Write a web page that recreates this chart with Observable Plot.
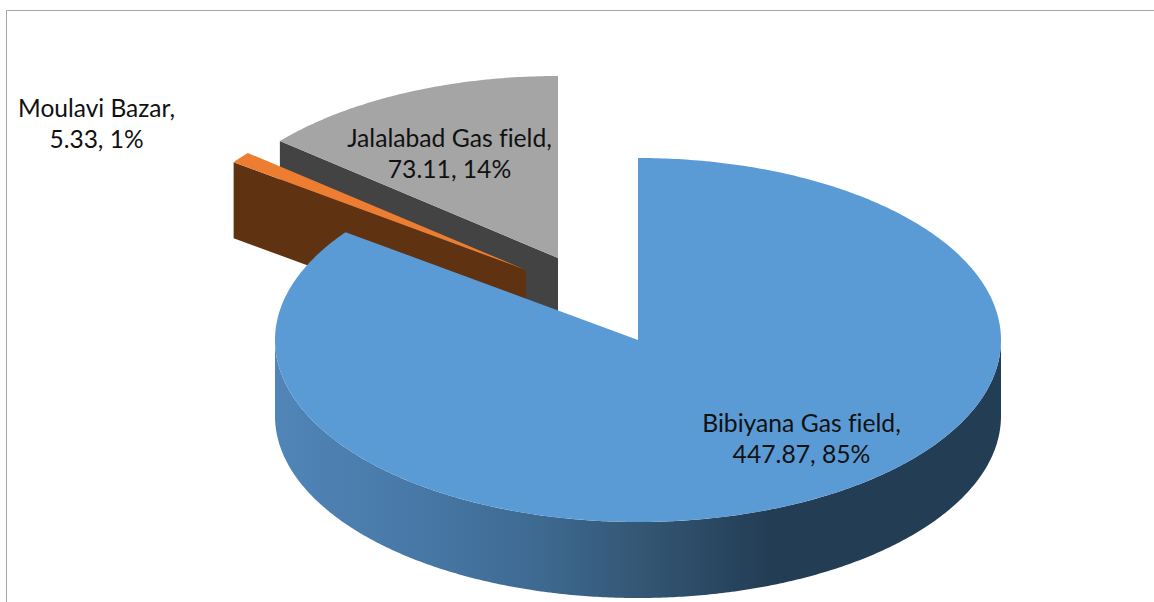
<!DOCTYPE html>
<html>
<head>
<meta charset="utf-8">
<script src="https://cdn.jsdelivr.net/npm/d3@7"></script>
<script src="https://cdn.jsdelivr.net/npm/@observablehq/plot@0.6"></script>
<style>html,body{margin:0;padding:0;background:#fff}svg{display:block}svg text{font-variant-ligatures:none}</style>
</head>
<body>
<div id="chart"></div>
<script>
const categories = ["Bibiyana Gas field", "Moulavi Bazar", "Jalalabad Gas field"];
const values = [447.87, 5.33, 73.11];
const percents = ["85%", "1%", "14%"];
const topColors = ["#5b9bd5", "#ed7d31", "#a5a5a5"];
const wallColors = ["#4a7fb0", "#5f3212", "#434343"];
const centers = [[638, 340], [526, 270], [558, 258]];
const labelAnchors = [[801, 437], [96, 122], [449, 152]];
const labelSizes = [24.7, 24.5, 24.7];
const rx = 363, ry = 182, depth = 76;

const total = d3.sum(values);
let acc = 0;
const slices = values.map((v, i) => {
  const a0 = acc / total * 2 * Math.PI;
  acc += v;
  return {i, a0, a1: acc / total * 2 * Math.PI, cx: centers[i][0], cy: centers[i][1]};
});
const pt = (s, t) => [s.cx + rx * Math.sin(t), s.cy - ry * Math.cos(t)];

function fan(s) {
  const n = Math.max(4, Math.ceil((s.a1 - s.a0) * 90));
  return d3.range(n + 1).map(k => {
    const t = s.a0 + (s.a1 - s.a0) * k / n;
    const [x, y] = pt(s, t);
    return {x1: s.cx, y1: s.cy, x2: x, y2: y};
  });
}
// flat cut face of a slice seen from the front: its leading radial edge pushed down
function cutFace(s) {
  const [x, y] = pt(s, s.a0);
  return [
    {x1: x, y1: y, x2: x, y2: y + depth},
    {x1: s.cx, y1: s.cy, x2: s.cx, y2: s.cy + depth}
  ];
}
// front rim of the big slice
const blue = slices[0];
const rim = d3.range(0, 361).map(k => {
  const t = Math.PI / 2 + Math.PI * k / 360;
  const [x, y] = pt(blue, t);
  return {x, y1: y, y2: y + depth};
});

const gradient = () => {
  const svg = d3.create("svg:g");
  const g = svg.append("defs").append("linearGradient")
    .attr("id", "rimShade").attr("gradientUnits", "userSpaceOnUse")
    .attr("x1", blue.cx - rx).attr("x2", blue.cx + rx).attr("y1", 0).attr("y2", 0);
  [[0, "#5185b8"], [0.18, "#4879a8"], [0.36, "#3e6a92"], [0.5, "#345775"], [0.68, "#233d54"], [1, "#233d54"]]
    .forEach(([o, c]) => g.append("stop").attr("offset", o).attr("stop-color", c));
  return svg.node();
};

const labels = categories.map((c, i) => ({
  text: `${c},\n${values[i]}, ${percents[i]}`,
  x: labelAnchors[i][0], y: labelAnchors[i][1], size: labelSizes[i]
}));

const frame = [{x: 6, y: 602}, {x: 6, y: 10}, {x: 1154, y: 10}];

const [b, m, j] = slices;
const chart = Plot.plot({
  width: 1154, height: 602,
  margin: 0,
  x: {domain: [0, 1154], range: [0, 1154], axis: null},
  y: {domain: [0, 602], range: [0, 602], axis: null},
  style: {background: "#fff"},
  marks: [
    gradient,
    Plot.line(frame, {x: "x", y: "y", stroke: "#a6a6a6", strokeWidth: 1}),
    // Jalalabad
    Plot.area(cutFace(j), {x1: "x1", y1: "y1", x2: "x2", y2: "y2", fill: wallColors[2]}),
    Plot.area(fan(j), {x1: "x1", y1: "y1", x2: "x2", y2: "y2", fill: topColors[2]}),
    // Moulavi
    Plot.area(cutFace(m), {x1: "x1", y1: "y1", x2: "x2", y2: "y2", fill: wallColors[1]}),
    Plot.area(fan(m), {x1: "x1", y1: "y1", x2: "x2", y2: "y2", fill: topColors[1]}),
    // Bibiyana
    Plot.areaY(rim, {x: "x", y1: "y1", y2: "y2", fill: "url(#rimShade)"}),
    Plot.area(fan(b), {x1: "x1", y1: "y1", x2: "x2", y2: "y2", fill: topColors[0]}),
    Plot.text(labels, {
      x: "x", y: "y", text: "text", fontSize: "size",
      fontFamily: "Lato, Carlito, sans-serif", fill: "#111", lineHeight: 1.27, textAnchor: "middle"
    })
  ]
});
document.getElementById("chart").append(chart);
</script>
</body>
</html>
